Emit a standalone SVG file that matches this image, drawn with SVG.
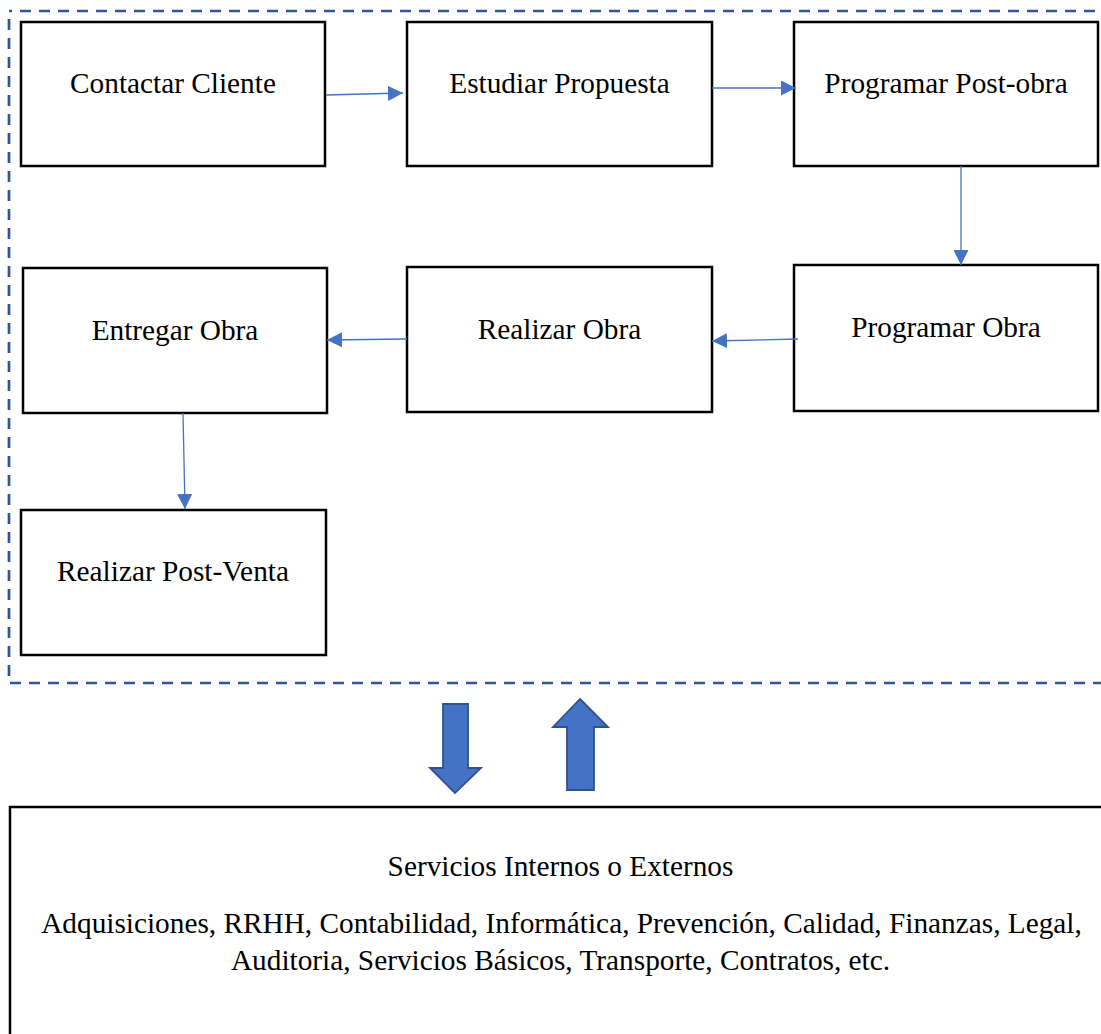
<svg xmlns="http://www.w3.org/2000/svg" width="1101" height="1034" viewBox="0 0 1101 1034">
<defs>
<style>
.box{fill:#ffffff;stroke:#000000;stroke-width:2.5}
.lbl{font-family:"Liberation Serif","Times New Roman",serif;font-size:29.3px;fill:#000000;text-anchor:middle}
.con{fill:none;stroke:#4472C4;stroke-width:1.3;marker-end:url(#ah)}
.blk{fill:#4472C4;stroke:#2F528F;stroke-width:1.8;stroke-linejoin:miter}
</style>
<marker id="ah" viewBox="0 0 15 15" refX="15" refY="7.5" markerWidth="15" markerHeight="15" markerUnits="userSpaceOnUse" orient="auto">
<path d="M0,0 L15,7.5 L0,15 Z" fill="#4472C4"/>
</marker>
</defs>
<rect width="1101" height="1034" fill="#ffffff"/>
<rect id="boundary" x="9" y="11" width="1110" height="672" fill="none" stroke="#2F5597" stroke-width="2.7" stroke-dasharray="11 8" stroke-dashoffset="8"/>

<g id="contactar-cliente">
<rect class="box" x="21" y="22" width="304" height="144"/>
<text class="lbl" x="173" y="93">Contactar Cliente</text>
</g>
<g id="estudiar-propuesta">
<rect class="box" x="407" y="22" width="305" height="144"/>
<text class="lbl" x="559.5" y="93">Estudiar Propuesta</text>
</g>
<g id="programar-post-obra">
<rect class="box" x="794" y="22" width="304" height="144"/>
<text class="lbl" x="946" y="93">Programar Post-obra</text>
</g>
<g id="programar-obra">
<rect class="box" x="794" y="265" width="304" height="146"/>
<text class="lbl" x="946" y="337">Programar Obra</text>
</g>
<g id="realizar-obra">
<rect class="box" x="407" y="267" width="305" height="145"/>
<text class="lbl" x="559.5" y="339">Realizar Obra</text>
</g>
<g id="entregar-obra">
<rect class="box" x="23" y="268" width="304" height="145"/>
<text class="lbl" x="175" y="340">Entregar Obra</text>
</g>
<g id="realizar-post-venta">
<rect class="box" x="21" y="510" width="305" height="145"/>
<text class="lbl" x="173" y="581">Realizar Post-Venta</text>
</g>

<g id="connectors">
<line class="con" x1="326" y1="95" x2="403" y2="93"/>
<line class="con" x1="712" y1="88" x2="796" y2="88"/>
<line class="con" x1="961" y1="166" x2="961" y2="265"/>
<line class="con" x1="798" y1="339" x2="712" y2="341"/>
<line class="con" x1="407" y1="339" x2="327" y2="340"/>
<line class="con" x1="183" y1="413" x2="185" y2="509"/>
<polygon class="blk" points="443,704 468,704 468,768 481,768 455,793 430,768 443,768"/>
<polygon class="blk" points="580,699 608,727 594,727 594,790 567,790 567,727 553,727"/>
</g>

<g id="servicios">
<rect class="box" x="10" y="807" width="1110" height="240"/>
<text class="lbl" x="560.5" y="876">Servicios Internos o Externos</text>
<text class="lbl" x="561.5" y="933">Adquisiciones, RRHH, Contabilidad, Informática, Prevención, Calidad, Finanzas, Legal,</text>
<text class="lbl" x="560.5" y="970">Auditoria, Servicios Básicos, Transporte, Contratos, etc.</text>
</g>
</svg>
